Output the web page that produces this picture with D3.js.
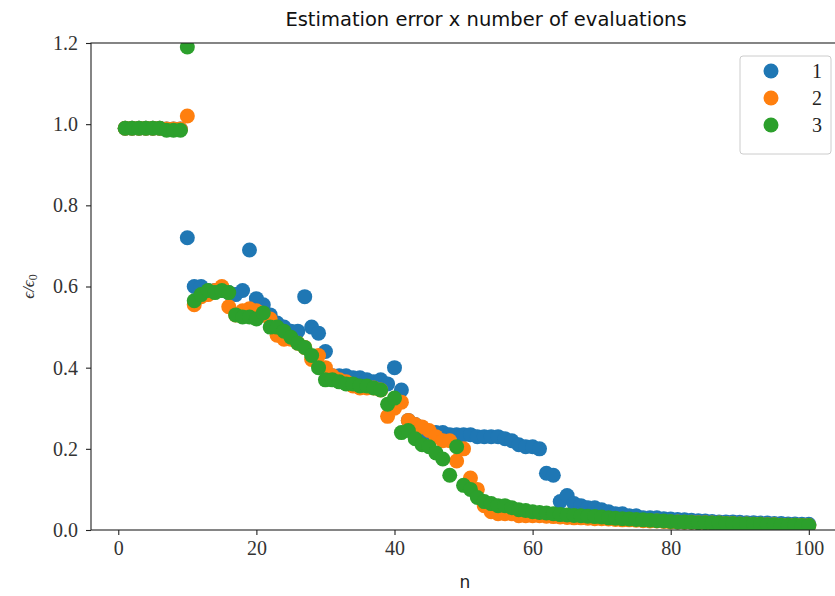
<!DOCTYPE html>
<html>
<head>
<meta charset="utf-8">
<script src="https://cdn.jsdelivr.net/npm/d3@7"></script>
<style>
  body { margin: 0; background: #fff; }
  svg { display: block; }
</style>
</head>
<body>
<div id="chart"></div>
<script>
// n = 1..100
var nValues = d3.range(1, 101);

var series1 = [
  0.99, 0.99, 0.99, 0.99, 0.99, 0.99, 0.988, 0.988, 0.988, 0.72,
  0.60, 0.60, 0.59, 0.59, 0.59, 0.585, 0.58, 0.59, 0.69, 0.57,
  0.555, 0.53, 0.51, 0.50, 0.49, 0.49, 0.575, 0.50, 0.485, 0.44,
  0.38, 0.38, 0.38, 0.375, 0.375, 0.37, 0.365, 0.37, 0.36, 0.40,
  0.345, 0.27, 0.26, 0.24, 0.24, 0.24, 0.24, 0.235, 0.235, 0.235,
  0.235, 0.23, 0.23, 0.23, 0.23, 0.225, 0.22, 0.21, 0.205, 0.205,
  0.20, 0.14, 0.135, 0.07, 0.085, 0.065, 0.06, 0.055, 0.055, 0.05,
  0.045, 0.04, 0.04, 0.035, 0.035, 0.03, 0.03, 0.03, 0.028, 0.027,
  0.026, 0.025, 0.024, 0.023, 0.022, 0.021, 0.02, 0.02, 0.02, 0.019,
  0.018, 0.018, 0.017, 0.017, 0.016, 0.016, 0.015, 0.015, 0.014, 0.014
];

var series2 = [
  0.99, 0.99, 0.99, 0.99, 0.99, 0.99, 0.988, 0.988, 0.988, 1.02,
  0.555, 0.575, 0.58, 0.59, 0.60, 0.55, 0.53, 0.54, 0.545, 0.54,
  0.53, 0.52, 0.48, 0.47, 0.47, 0.46, 0.45, 0.42, 0.43, 0.40,
  0.38, 0.37, 0.365, 0.355, 0.35, 0.35, 0.35, 0.345, 0.28, 0.30,
  0.315, 0.27, 0.26, 0.254, 0.245, 0.23, 0.22, 0.22, 0.17, 0.20,
  0.128, 0.10, 0.06, 0.045, 0.04, 0.04, 0.04, 0.035, 0.035, 0.035,
  0.035, 0.034, 0.033, 0.032, 0.031, 0.03, 0.03, 0.029, 0.028, 0.028,
  0.027, 0.026, 0.025, 0.025, 0.024, 0.023, 0.022, 0.022, 0.021, 0.02,
  0.02, 0.019, 0.019, 0.018, 0.018, 0.017, 0.017, 0.016, 0.016, 0.015,
  0.015, 0.014, 0.014, 0.013, 0.013, 0.012, 0.012, 0.012, 0.011, 0.011
];

var series3 = [
  0.99, 0.99, 0.99, 0.99, 0.99, 0.99, 0.985, 0.985, 0.985, 1.19,
  0.565, 0.58, 0.59, 0.585, 0.59, 0.585, 0.53, 0.525, 0.525, 0.52,
  0.535, 0.50, 0.50, 0.49, 0.475, 0.46, 0.45, 0.43, 0.40, 0.37,
  0.37, 0.365, 0.36, 0.36, 0.355, 0.355, 0.35, 0.345, 0.31, 0.325,
  0.24, 0.245, 0.225, 0.21, 0.205, 0.19, 0.175, 0.135, 0.205, 0.11,
  0.10, 0.08, 0.07, 0.065, 0.06, 0.06, 0.055, 0.05, 0.048, 0.045,
  0.043, 0.042, 0.04, 0.038, 0.037, 0.036, 0.035, 0.034, 0.033, 0.032,
  0.03, 0.029, 0.028, 0.027, 0.026, 0.025, 0.024, 0.023, 0.022, 0.021,
  0.02, 0.02, 0.019, 0.018, 0.018, 0.017, 0.017, 0.016, 0.016, 0.015,
  0.015, 0.014, 0.014, 0.013, 0.013, 0.012, 0.012, 0.012, 0.011, 0.011
];

var seriesNames = ["1", "2", "3"];
var seriesColors = ["#1f77b4", "#ff7f0e", "#2ca02c"];
var xTicks = [0, 20, 40, 60, 80, 100];
var yTicks = [0.0, 0.2, 0.4, 0.6, 0.8, 1.0, 1.2];

var width = 835, height = 596;
var margin = {left: 91, right: 843, top: 43, bottom: 530};

var svg = d3.select("#chart").append("svg")
  .attr("width", width)
  .attr("height", height);

var x = d3.scaleLinear().domain([-3.95, 104.95]).range([margin.left, margin.right]);
var y = d3.scaleLinear().domain([0, 1.2]).range([margin.bottom, margin.top]);

svg.append("clipPath").attr("id", "plotclip")
  .append("rect")
  .attr("x", margin.left).attr("y", margin.top)
  .attr("width", margin.right - margin.left).attr("height", margin.bottom - margin.top);

var allSeries = [series1, series2, series3];
var plot = svg.append("g").attr("clip-path", "url(#plotclip)");

allSeries.forEach(function (vals, i) {
  plot.append("g").selectAll("circle")
    .data(vals)
    .enter().append("circle")
    .attr("cx", function (d, j) { return x(nValues[j]); })
    .attr("cy", function (d) { return y(d); })
    .attr("r", 7.5)
    .style("fill", seriesColors[i]);
});

// axes
var serif = "'Liberation Serif', 'DejaVu Serif', serif";

var xAxis = svg.append("g")
  .attr("transform", "translate(0," + margin.bottom + ")")
  .call(d3.axisBottom(x).tickValues(xTicks).tickSize(5).tickPadding(6).tickFormat(d3.format("d")));
var yAxis = svg.append("g")
  .attr("transform", "translate(" + margin.left + ",0)")
  .call(d3.axisLeft(y).tickValues(yTicks).tickSize(5).tickPadding(8).tickFormat(d3.format(".1f")));

[xAxis, yAxis].forEach(function (ax) {
  ax.select(".domain").remove();
  ax.selectAll(".tick line").attr("stroke", "#222").attr("stroke-width", 1.1);
  ax.selectAll(".tick text")
    .style("font-family", serif)
    .style("font-size", "20px")
    .attr("fill", "#333");
});

// spines
svg.append("rect")
  .attr("x", margin.left).attr("y", margin.top)
  .attr("width", margin.right - margin.left).attr("height", margin.bottom - margin.top)
  .attr("fill", "none")
  .attr("stroke", "#222")
  .attr("stroke-width", 1.1);

// title and labels
svg.append("text")
  .attr("x", 486).attr("y", 26)
  .attr("text-anchor", "middle")
  .style("font-family", "'DejaVu Sans', sans-serif")
  .style("font-size", "19.5px")
  .attr("fill", "#111")
  .text("Estimation error x number of evaluations");

svg.append("text")
  .attr("x", 465).attr("y", 588)
  .attr("text-anchor", "middle")
  .style("font-family", "'DejaVu Sans', sans-serif")
  .style("font-size", "17px")
  .attr("fill", "#222")
  .text("n");

var ylab = svg.append("text")
  .attr("transform", "translate(34," + ((margin.top + margin.bottom) / 2) + ") rotate(-90)")
  .attr("text-anchor", "middle")
  .style("font-family", serif)
  .style("font-style", "italic")
  .style("font-size", "17px")
  .attr("fill", "#333");
ylab.append("tspan").text("ϵ/ϵ");
ylab.append("tspan").attr("dy", 3).style("font-size", "12px").style("font-style", "normal").text("0");

// legend
var legend = svg.append("g").attr("transform", "translate(740,56)");
legend.append("rect")
  .attr("width", 91).attr("height", 98)
  .attr("rx", 3)
  .attr("fill", "#fff")
  .attr("fill-opacity", 0.8)
  .attr("stroke", "#ccc");
seriesNames.forEach(function (name, i) {
  var row = legend.append("g").attr("transform", "translate(0," + (15 + i * 27) + ")");
  row.append("circle").attr("cx", 31).attr("cy", 0).attr("r", 7.5).style("fill", seriesColors[i]);
  row.append("text")
    .attr("x", 77).attr("y", 7)
    .attr("text-anchor", "middle")
    .style("font-family", serif)
    .style("font-size", "20px")
    .attr("fill", "#222")
    .text(name);
});
</script>
</body>
</html>
